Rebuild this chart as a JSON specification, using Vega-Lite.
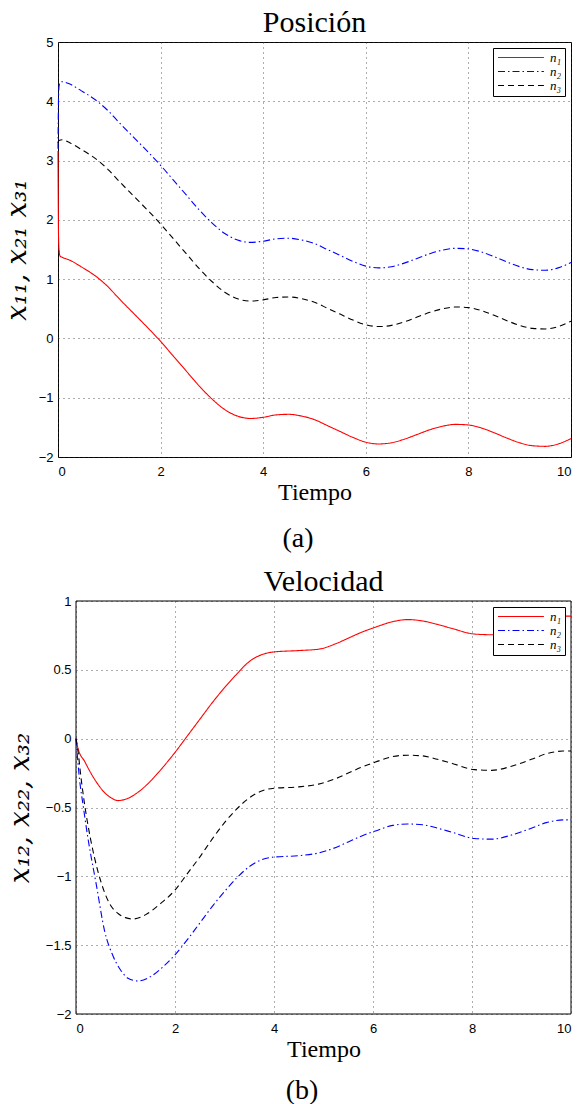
{
  "$schema": "https://vega.github.io/schema/vega-lite/v6.json",
  "padding": {"left": 2, "top": 7, "right": 0, "bottom": 0},
  "background": "white",
  "datasets": {
    "pos": [
      {"t": 0, "v": 3.16, "serie": "n₁"}, {"t": 0.005, "v": 2.3, "serie": "n₁"}, {"t": 0.01, "v": 1.75, "serie": "n₁"}, {"t": 0.02, "v": 1.5, "serie": "n₁"}, {"t": 0.04, "v": 1.39, "serie": "n₁"}, {"t": 0.08, "v": 1.37, "serie": "n₁"},
      {"t": 0.23, "v": 1.32, "serie": "n₁"}, {"t": 0.45, "v": 1.21, "serie": "n₁"}, {"t": 0.78, "v": 1.02, "serie": "n₁"}, {"t": 1.0, "v": 0.85, "serie": "n₁"}, {"t": 1.16, "v": 0.7, "serie": "n₁"},
      {"t": 1.5, "v": 0.4, "serie": "n₁"}, {"t": 1.75, "v": 0.18, "serie": "n₁"}, {"t": 2.0, "v": -0.05, "serie": "n₁"}, {"t": 2.25, "v": -0.3, "serie": "n₁"}, {"t": 2.5, "v": -0.55, "serie": "n₁"},
      {"t": 2.75, "v": -0.8, "serie": "n₁"}, {"t": 3.0, "v": -1.02, "serie": "n₁"}, {"t": 3.25, "v": -1.2, "serie": "n₁"}, {"t": 3.5, "v": -1.31, "serie": "n₁"}, {"t": 3.75, "v": -1.35, "serie": "n₁"},
      {"t": 4.0, "v": -1.33, "serie": "n₁"}, {"t": 4.25, "v": -1.29, "serie": "n₁"}, {"t": 4.5, "v": -1.28, "serie": "n₁"}, {"t": 4.75, "v": -1.31, "serie": "n₁"}, {"t": 5.0, "v": -1.37, "serie": "n₁"},
      {"t": 5.25, "v": -1.47, "serie": "n₁"}, {"t": 5.5, "v": -1.57, "serie": "n₁"}, {"t": 5.75, "v": -1.67, "serie": "n₁"}, {"t": 6.0, "v": -1.75, "serie": "n₁"}, {"t": 6.25, "v": -1.78, "serie": "n₁"},
      {"t": 6.5, "v": -1.76, "serie": "n₁"}, {"t": 6.75, "v": -1.7, "serie": "n₁"}, {"t": 7.0, "v": -1.62, "serie": "n₁"}, {"t": 7.25, "v": -1.54, "serie": "n₁"}, {"t": 7.5, "v": -1.48, "serie": "n₁"},
      {"t": 7.75, "v": -1.45, "serie": "n₁"}, {"t": 8.0, "v": -1.46, "serie": "n₁"}, {"t": 8.25, "v": -1.51, "serie": "n₁"}, {"t": 8.5, "v": -1.59, "serie": "n₁"}, {"t": 8.75, "v": -1.68, "serie": "n₁"},
      {"t": 9.0, "v": -1.76, "serie": "n₁"}, {"t": 9.25, "v": -1.81, "serie": "n₁"}, {"t": 9.5, "v": -1.82, "serie": "n₁"}, {"t": 9.75, "v": -1.78, "serie": "n₁"}, {"t": 10.0, "v": -1.69, "serie": "n₁"},

      {"t": 0, "v": 3.2, "serie": "n₂"}, {"t": 0.005, "v": 3.7, "serie": "n₂"}, {"t": 0.01, "v": 4.05, "serie": "n₂"}, {"t": 0.02, "v": 4.25, "serie": "n₂"}, {"t": 0.04, "v": 4.32, "serie": "n₂"}, {"t": 0.08, "v": 4.33, "serie": "n₂"},
      {"t": 0.23, "v": 4.29, "serie": "n₂"}, {"t": 0.45, "v": 4.18, "serie": "n₂"}, {"t": 0.78, "v": 3.99, "serie": "n₂"}, {"t": 1.0, "v": 3.82, "serie": "n₂"}, {"t": 1.16, "v": 3.67, "serie": "n₂"},
      {"t": 1.5, "v": 3.37, "serie": "n₂"}, {"t": 1.75, "v": 3.15, "serie": "n₂"}, {"t": 2.0, "v": 2.92, "serie": "n₂"}, {"t": 2.25, "v": 2.67, "serie": "n₂"}, {"t": 2.5, "v": 2.42, "serie": "n₂"},
      {"t": 2.75, "v": 2.17, "serie": "n₂"}, {"t": 3.0, "v": 1.95, "serie": "n₂"}, {"t": 3.25, "v": 1.77, "serie": "n₂"}, {"t": 3.5, "v": 1.66, "serie": "n₂"}, {"t": 3.75, "v": 1.62, "serie": "n₂"},
      {"t": 4.0, "v": 1.64, "serie": "n₂"}, {"t": 4.25, "v": 1.68, "serie": "n₂"}, {"t": 4.5, "v": 1.69, "serie": "n₂"}, {"t": 4.75, "v": 1.66, "serie": "n₂"}, {"t": 5.0, "v": 1.6, "serie": "n₂"},
      {"t": 5.25, "v": 1.5, "serie": "n₂"}, {"t": 5.5, "v": 1.4, "serie": "n₂"}, {"t": 5.75, "v": 1.3, "serie": "n₂"}, {"t": 6.0, "v": 1.22, "serie": "n₂"}, {"t": 6.25, "v": 1.19, "serie": "n₂"},
      {"t": 6.5, "v": 1.21, "serie": "n₂"}, {"t": 6.75, "v": 1.27, "serie": "n₂"}, {"t": 7.0, "v": 1.35, "serie": "n₂"}, {"t": 7.25, "v": 1.43, "serie": "n₂"}, {"t": 7.5, "v": 1.49, "serie": "n₂"},
      {"t": 7.75, "v": 1.52, "serie": "n₂"}, {"t": 8.0, "v": 1.51, "serie": "n₂"}, {"t": 8.25, "v": 1.46, "serie": "n₂"}, {"t": 8.5, "v": 1.38, "serie": "n₂"}, {"t": 8.75, "v": 1.29, "serie": "n₂"},
      {"t": 9.0, "v": 1.21, "serie": "n₂"}, {"t": 9.25, "v": 1.16, "serie": "n₂"}, {"t": 9.5, "v": 1.15, "serie": "n₂"}, {"t": 9.75, "v": 1.19, "serie": "n₂"}, {"t": 10.0, "v": 1.28, "serie": "n₂"},

      {"t": 0, "v": 3.3, "serie": "n₃"}, {"t": 0.02, "v": 3.34, "serie": "n₃"}, {"t": 0.08, "v": 3.35, "serie": "n₃"},
      {"t": 0.23, "v": 3.3, "serie": "n₃"}, {"t": 0.45, "v": 3.19, "serie": "n₃"}, {"t": 0.78, "v": 3.0, "serie": "n₃"}, {"t": 1.0, "v": 2.83, "serie": "n₃"}, {"t": 1.16, "v": 2.68, "serie": "n₃"},
      {"t": 1.5, "v": 2.38, "serie": "n₃"}, {"t": 1.75, "v": 2.16, "serie": "n₃"}, {"t": 2.0, "v": 1.93, "serie": "n₃"}, {"t": 2.25, "v": 1.68, "serie": "n₃"}, {"t": 2.5, "v": 1.43, "serie": "n₃"},
      {"t": 2.75, "v": 1.18, "serie": "n₃"}, {"t": 3.0, "v": 0.96, "serie": "n₃"}, {"t": 3.25, "v": 0.78, "serie": "n₃"}, {"t": 3.5, "v": 0.67, "serie": "n₃"}, {"t": 3.75, "v": 0.63, "serie": "n₃"},
      {"t": 4.0, "v": 0.65, "serie": "n₃"}, {"t": 4.25, "v": 0.69, "serie": "n₃"}, {"t": 4.5, "v": 0.7, "serie": "n₃"}, {"t": 4.75, "v": 0.67, "serie": "n₃"}, {"t": 5.0, "v": 0.61, "serie": "n₃"},
      {"t": 5.25, "v": 0.51, "serie": "n₃"}, {"t": 5.5, "v": 0.41, "serie": "n₃"}, {"t": 5.75, "v": 0.31, "serie": "n₃"}, {"t": 6.0, "v": 0.23, "serie": "n₃"}, {"t": 6.25, "v": 0.2, "serie": "n₃"},
      {"t": 6.5, "v": 0.22, "serie": "n₃"}, {"t": 6.75, "v": 0.28, "serie": "n₃"}, {"t": 7.0, "v": 0.36, "serie": "n₃"}, {"t": 7.25, "v": 0.44, "serie": "n₃"}, {"t": 7.5, "v": 0.5, "serie": "n₃"},
      {"t": 7.75, "v": 0.53, "serie": "n₃"}, {"t": 8.0, "v": 0.52, "serie": "n₃"}, {"t": 8.25, "v": 0.47, "serie": "n₃"}, {"t": 8.5, "v": 0.39, "serie": "n₃"}, {"t": 8.75, "v": 0.3, "serie": "n₃"},
      {"t": 9.0, "v": 0.22, "serie": "n₃"}, {"t": 9.25, "v": 0.17, "serie": "n₃"}, {"t": 9.5, "v": 0.16, "serie": "n₃"}, {"t": 9.75, "v": 0.2, "serie": "n₃"}, {"t": 10.0, "v": 0.29, "serie": "n₃"}
    ],
    "vel": [
      {"t": 0, "v": 0, "serie": "n₁"}, {"t": 0.04, "v": -0.07, "serie": "n₁"}, {"t": 0.175, "v": -0.165, "serie": "n₁"}, {"t": 0.3, "v": -0.25, "serie": "n₁"}, {"t": 0.44, "v": -0.33, "serie": "n₁"},
      {"t": 0.6, "v": -0.4, "serie": "n₁"}, {"t": 0.71, "v": -0.43, "serie": "n₁"}, {"t": 0.85, "v": -0.45, "serie": "n₁"}, {"t": 1.0, "v": -0.44, "serie": "n₁"}, {"t": 1.25, "v": -0.39, "serie": "n₁"},
      {"t": 1.5, "v": -0.31, "serie": "n₁"}, {"t": 1.75, "v": -0.21, "serie": "n₁"}, {"t": 2.0, "v": -0.1, "serie": "n₁"}, {"t": 2.25, "v": 0.02, "serie": "n₁"}, {"t": 2.5, "v": 0.14, "serie": "n₁"},
      {"t": 2.75, "v": 0.26, "serie": "n₁"}, {"t": 3.0, "v": 0.37, "serie": "n₁"}, {"t": 3.25, "v": 0.47, "serie": "n₁"}, {"t": 3.5, "v": 0.56, "serie": "n₁"}, {"t": 3.75, "v": 0.61, "serie": "n₁"},
      {"t": 4.0, "v": 0.63, "serie": "n₁"}, {"t": 4.5, "v": 0.64, "serie": "n₁"}, {"t": 4.9, "v": 0.65, "serie": "n₁"}, {"t": 5.25, "v": 0.69, "serie": "n₁"}, {"t": 5.5, "v": 0.73, "serie": "n₁"},
      {"t": 5.75, "v": 0.77, "serie": "n₁"}, {"t": 6.05, "v": 0.81, "serie": "n₁"}, {"t": 6.4, "v": 0.85, "serie": "n₁"}, {"t": 6.7, "v": 0.865, "serie": "n₁"}, {"t": 7.0, "v": 0.855, "serie": "n₁"},
      {"t": 7.3, "v": 0.83, "serie": "n₁"}, {"t": 7.6, "v": 0.8, "serie": "n₁"}, {"t": 8.05, "v": 0.76, "serie": "n₁"}, {"t": 8.4, "v": 0.755, "serie": "n₁"}, {"t": 8.8, "v": 0.78, "serie": "n₁"},
      {"t": 9.2, "v": 0.83, "serie": "n₁"}, {"t": 9.5, "v": 0.87, "serie": "n₁"}, {"t": 9.84, "v": 0.89, "serie": "n₁"}, {"t": 10.0, "v": 0.89, "serie": "n₁"},

      {"t": 0, "v": 0, "serie": "n₂"}, {"t": 0.07, "v": -0.29, "serie": "n₂"}, {"t": 0.15, "v": -0.5, "serie": "n₂"}, {"t": 0.24, "v": -0.72, "serie": "n₂"}, {"t": 0.41, "v": -1.06, "serie": "n₂"},
      {"t": 0.58, "v": -1.4, "serie": "n₂"}, {"t": 0.75, "v": -1.58, "serie": "n₂"}, {"t": 0.9, "v": -1.68, "serie": "n₂"}, {"t": 1.05, "v": -1.74, "serie": "n₂"}, {"t": 1.25, "v": -1.76, "serie": "n₂"},
      {"t": 1.5, "v": -1.73, "serie": "n₂"}, {"t": 1.75, "v": -1.66, "serie": "n₂"}, {"t": 2.0, "v": -1.57, "serie": "n₂"}, {"t": 2.25, "v": -1.46, "serie": "n₂"}, {"t": 2.5, "v": -1.34, "serie": "n₂"},
      {"t": 2.75, "v": -1.22, "serie": "n₂"}, {"t": 3.0, "v": -1.11, "serie": "n₂"}, {"t": 3.25, "v": -1.01, "serie": "n₂"}, {"t": 3.5, "v": -0.93, "serie": "n₂"}, {"t": 3.75, "v": -0.88, "serie": "n₂"},
      {"t": 4.0, "v": -0.86, "serie": "n₂"}, {"t": 4.5, "v": -0.85, "serie": "n₂"}, {"t": 4.9, "v": -0.83, "serie": "n₂"}, {"t": 5.25, "v": -0.79, "serie": "n₂"}, {"t": 5.5, "v": -0.75, "serie": "n₂"},
      {"t": 5.75, "v": -0.71, "serie": "n₂"}, {"t": 6.05, "v": -0.67, "serie": "n₂"}, {"t": 6.4, "v": -0.63, "serie": "n₂"}, {"t": 6.7, "v": -0.62, "serie": "n₂"}, {"t": 7.0, "v": -0.625, "serie": "n₂"},
      {"t": 7.3, "v": -0.65, "serie": "n₂"}, {"t": 7.6, "v": -0.68, "serie": "n₂"}, {"t": 8.05, "v": -0.725, "serie": "n₂"}, {"t": 8.4, "v": -0.73, "serie": "n₂"}, {"t": 8.8, "v": -0.7, "serie": "n₂"},
      {"t": 9.2, "v": -0.65, "serie": "n₂"}, {"t": 9.5, "v": -0.61, "serie": "n₂"}, {"t": 9.84, "v": -0.59, "serie": "n₂"}, {"t": 10.0, "v": -0.59, "serie": "n₂"},

      {"t": 0, "v": 0, "serie": "n₃"}, {"t": 0.04, "v": -0.09, "serie": "n₃"}, {"t": 0.1, "v": -0.28, "serie": "n₃"}, {"t": 0.175, "v": -0.48, "serie": "n₃"}, {"t": 0.3, "v": -0.74, "serie": "n₃"},
      {"t": 0.44, "v": -0.96, "serie": "n₃"}, {"t": 0.56, "v": -1.1, "serie": "n₃"}, {"t": 0.68, "v": -1.2, "serie": "n₃"}, {"t": 0.85, "v": -1.27, "serie": "n₃"}, {"t": 1.0, "v": -1.3, "serie": "n₃"},
      {"t": 1.15, "v": -1.31, "serie": "n₃"}, {"t": 1.4, "v": -1.28, "serie": "n₃"}, {"t": 1.7, "v": -1.2, "serie": "n₃"}, {"t": 2.0, "v": -1.1, "serie": "n₃"}, {"t": 2.25, "v": -0.98, "serie": "n₃"},
      {"t": 2.5, "v": -0.86, "serie": "n₃"}, {"t": 2.75, "v": -0.73, "serie": "n₃"}, {"t": 3.0, "v": -0.61, "serie": "n₃"}, {"t": 3.25, "v": -0.51, "serie": "n₃"}, {"t": 3.5, "v": -0.43, "serie": "n₃"},
      {"t": 3.75, "v": -0.38, "serie": "n₃"}, {"t": 4.0, "v": -0.36, "serie": "n₃"}, {"t": 4.5, "v": -0.35, "serie": "n₃"}, {"t": 4.9, "v": -0.33, "serie": "n₃"}, {"t": 5.25, "v": -0.29, "serie": "n₃"},
      {"t": 5.5, "v": -0.25, "serie": "n₃"}, {"t": 5.75, "v": -0.21, "serie": "n₃"}, {"t": 6.05, "v": -0.17, "serie": "n₃"}, {"t": 6.4, "v": -0.13, "serie": "n₃"}, {"t": 6.7, "v": -0.12, "serie": "n₃"},
      {"t": 7.0, "v": -0.125, "serie": "n₃"}, {"t": 7.3, "v": -0.15, "serie": "n₃"}, {"t": 7.6, "v": -0.18, "serie": "n₃"}, {"t": 8.05, "v": -0.225, "serie": "n₃"}, {"t": 8.4, "v": -0.23, "serie": "n₃"},
      {"t": 8.8, "v": -0.2, "serie": "n₃"}, {"t": 9.2, "v": -0.15, "serie": "n₃"}, {"t": 9.5, "v": -0.11, "serie": "n₃"}, {"t": 9.84, "v": -0.09, "serie": "n₃"}, {"t": 10.0, "v": -0.09, "serie": "n₃"}
    ],
    "marco": [{"t0": 0, "t1": 10, "v0": -2, "v1": 1}],
    "capa": [{"c": "(a)"}],
    "capb": [{"c": "(b)"}]
  },
  "config": {
    "view": {"stroke": "black", "strokeWidth": 1},
    "axis": {
      "labelFont": "Liberation Sans", "labelFontSize": 13, "labelColor": "black",
      "titleFont": "Liberation Serif", "titleFontWeight": "normal", "titleColor": "black",
      "domain": false, "grid": true, "gridColor": "#333", "gridDash": [1, 4], "gridWidth": 1, "gridOpacity": 0.8,
      "ticks": false
    },
    "title": {"font": "Liberation Serif", "fontWeight": "normal", "color": "black", "anchor": "middle"},
    "legend": {
      "orient": "top-right", "offset": 6, "title": null,
      "strokeColor": "black", "fillColor": "white", "padding": 3,
      "labelFont": "Liberation Serif", "labelFontStyle": "italic", "labelFontSize": 13, "labelColor": "black",
      "symbolType": "M-1,0H9.2", "symbolSize": 81, "symbolStrokeWidth": 1.1, "rowPadding": 0, "labelOffset": 41
    }
  },
  "columns": 1,
  "align": "none",
  "spacing": 0,
  "resolve": {"scale": {"color": "independent", "strokeDash": "independent", "x": "independent", "y": "independent"}, "legend": {"color": "independent", "strokeDash": "independent"}},
  "concat": [
    {
      "title": {"text": "Posición", "fontSize": 30, "offset": -2},
      "width": 513, "height": 415,
      "data": {"name": "pos"},
      "mark": {"type": "line", "strokeWidth": 1.1, "interpolate": "monotone"},
      "encoding": {
        "x": {"field": "t", "type": "quantitative", "scale": {"domain": [0, 10], "nice": false},
              "axis": {"values": [0, 2, 4, 6, 8, 10], "title": "Tiempo", "titleFontSize": 24, "titlePadding": 2, "labelPadding": 8}},
        "y": {"field": "v", "type": "quantitative", "scale": {"domain": [-2, 5], "nice": false},
              "axis": {"values": [-2, -1, 0, 1, 2, 3, 4, 5], "title": "x₁₁, x₂₁ x₃₁", "titleFont": "DejaVu Serif", "titleFontStyle": "italic", "titleFontSize": 28, "titlePadding": 7, "labelPadding": 5}},
        "color": {"field": "serie", "type": "nominal", "scale": {"domain": ["n₁", "n₂", "n₃"], "range": ["#ff0000", "#0000ff", "#000000"]}},
        "strokeDash": {"field": "serie", "type": "nominal", "scale": {"domain": ["n₁", "n₂", "n₃"], "range": [[1, 0], [7, 3, 1.5, 3], [6, 4]]}}
      }
    },
    {
      "width": 480, "height": 62,
      "view": {"stroke": null},
      "data": {"name": "capa"},
      "mark": {"type": "text", "font": "Liberation Serif", "fontSize": 28, "baseline": "middle", "align": "center", "dy": 3},
      "encoding": {"text": {"field": "c", "type": "nominal"}}
    },
    {
      "title": {"text": "Velocidad", "fontSize": 30, "offset": -2, "dx": 9},
      "width": 513, "height": 413,
      "view": {"stroke": null},
      "layer": [
        {
          "data": {"name": "marco"},
          "mark": {"type": "rect", "fillOpacity": 0, "stroke": "black", "strokeWidth": 1},
          "encoding": {
            "x": {"field": "t0", "type": "quantitative"}, "x2": {"field": "t1"},
            "y": {"field": "v0", "type": "quantitative"}, "y2": {"field": "v1"}
          }
        },
        {
          "data": {"name": "vel"},
          "mark": {"type": "line", "strokeWidth": 1.1, "interpolate": "monotone"},
          "encoding": {
            "x": {"field": "t", "type": "quantitative", "scale": {"domain": [0, 10], "nice": false, "range": [18, 513]},
                  "axis": {"values": [0, 2, 4, 6, 8, 10], "title": "Tiempo", "titleFontSize": 24, "titlePadding": 2, "labelPadding": 8}},
            "y": {"field": "v", "type": "quantitative", "scale": {"domain": [-2, 1], "nice": false},
                  "axis": {"values": [-2, -1.5, -1, -0.5, 0, 0.5, 1], "format": "~g", "offset": -18, "title": "x₁₂, x₂₂, x₃₂", "titleFont": "DejaVu Serif", "titleFontStyle": "italic", "titleFontSize": 28, "titlePadding": 11, "labelPadding": 5}},
            "color": {"field": "serie", "type": "nominal", "scale": {"domain": ["n₁", "n₂", "n₃"], "range": ["#ff0000", "#0000ff", "#000000"]}},
            "strokeDash": {"field": "serie", "type": "nominal", "scale": {"domain": ["n₁", "n₂", "n₃"], "range": [[1, 0], [7, 3, 1.5, 3], [6, 4]]}}
          }
        }
      ]
    },
    {
      "width": 488, "height": 60,
      "view": {"stroke": null},
      "data": {"name": "capb"},
      "mark": {"type": "text", "font": "Liberation Serif", "fontSize": 28, "baseline": "middle", "align": "center"},
      "encoding": {"text": {"field": "c", "type": "nominal"}}
    }
  ]
}
